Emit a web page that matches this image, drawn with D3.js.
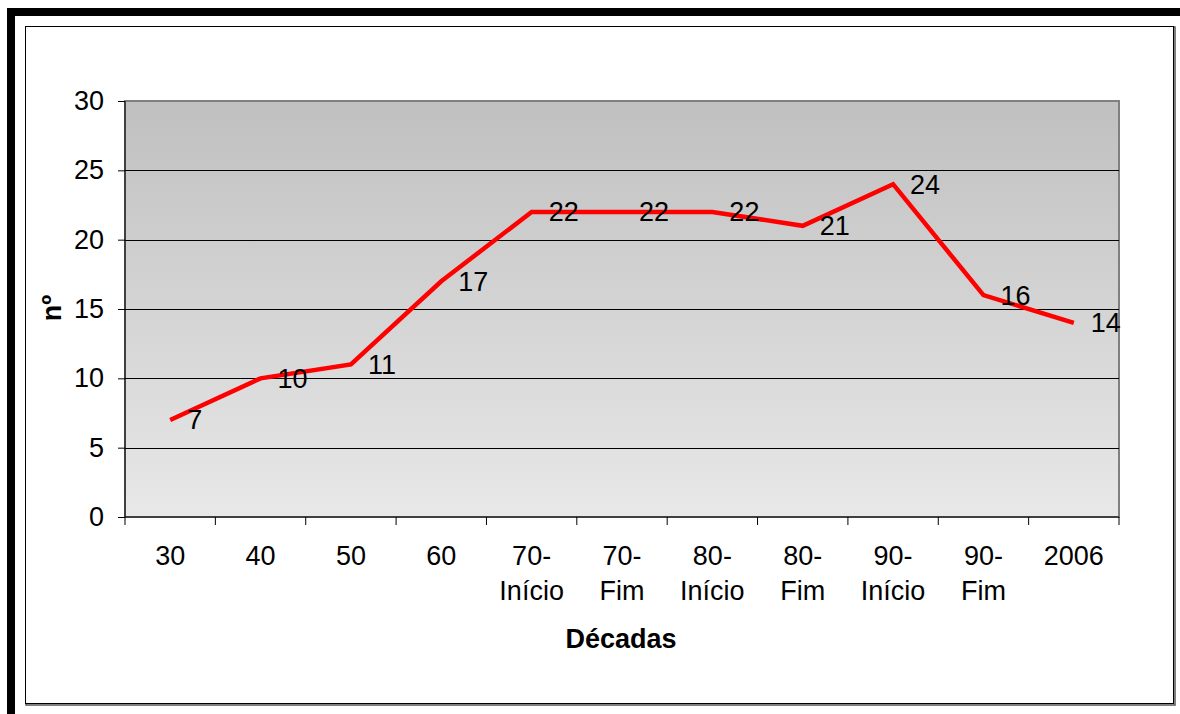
<!DOCTYPE html>
<html><head><meta charset="utf-8">
<script src="https://cdn.jsdelivr.net/npm/d3@7"></script>
<style>html,body{margin:0;padding:0;background:#fff;}svg{display:block;}</style>
</head><body>
<svg id="c" width="1180" height="714"></svg>
<script>
const categories = [["30"],["40"],["50"],["60"],["70-","Início"],["70-","Fim"],["80-","Início"],["80-","Fim"],["90-","Início"],["90-","Fim"],["2006"]];
const values = [7,10,11,17,22,22,22,21,24,16,14];
const yTicks = [0,5,10,15,20,25,30];
const xTitle = "Décadas";
const yTitle = "nº";

const svg = d3.select("#c");
const font = "'Liberation Sans', Arial, sans-serif";
const fs = 27;

// black page border bands
svg.append("rect").attr("x",7).attr("y",8).attr("width",1173).attr("height",8).attr("fill","#000");
svg.append("rect").attr("x",7).attr("y",8).attr("width",8).attr("height",706).attr("fill","#000");

// chart frame with shadow
svg.append("rect").attr("x",26).attr("y",27).attr("width",1149).attr("height",678).attr("fill","none").attr("stroke","#555").attr("stroke-width",1.5);
svg.append("rect").attr("x",25.5).attr("y",26.5).attr("width",1148).attr("height",677).attr("fill","#fff").attr("stroke","#000").attr("stroke-width",1);

const L=125, R=1119, T=101, B=517;
const x = d3.scaleBand().domain(d3.range(categories.length)).range([L,R]).padding(0);
const y = d3.scaleLinear().domain([0,30]).range([B,T]);

const defs = svg.append("defs");
const g = defs.append("linearGradient").attr("id","bg").attr("x1",0).attr("y1",0).attr("x2",0).attr("y2",1);
g.append("stop").attr("offset","0%").attr("stop-color","#c0c0c0");
g.append("stop").attr("offset","100%").attr("stop-color","#e8e8e8");

svg.append("rect").attr("x",L).attr("y",T).attr("width",R-L).attr("height",B-T).attr("fill","url(#bg)").attr("stroke","#808080").attr("stroke-width",2);

// gridlines
svg.append("g").selectAll("line").data(yTicks.filter(t=>t>0 && t<30)).join("line")
  .attr("x1",L).attr("x2",R).attr("y1",d=>Math.round(y(d))+0.5).attr("y2",d=>Math.round(y(d))+0.5)
  .attr("stroke","#000").attr("stroke-width",1);

// y axis
const ya = svg.append("g").attr("transform",`translate(${L},0)`)
  .call(d3.axisLeft(y).tickValues(yTicks).tickSize(7).tickPadding(14));
ya.select(".domain").remove();
ya.append("line").attr("x1",0).attr("x2",0).attr("y1",T).attr("y2",B).attr("stroke","#000").attr("stroke-width",1);
ya.selectAll(".tick line").attr("stroke","#000");
ya.selectAll(".tick text").attr("font-family",font).attr("font-size",fs).attr("fill","#000");

// x axis
const xa = svg.append("g").attr("transform",`translate(0,${B})`);
xa.append("line").attr("x1",L).attr("x2",R).attr("y1",0).attr("y2",0).attr("stroke","#000").attr("stroke-width",1.2);
const edges = d3.range(categories.length+1).map(i=> i<categories.length ? x(i) : x(categories.length-1)+x.bandwidth());
xa.selectAll("line.tk").data(edges).join("line").attr("class","tk")
  .attr("x1",d=>d).attr("x2",d=>d).attr("y1",0).attr("y2",8).attr("stroke","#000");
const lab = xa.selectAll("text.cat").data(categories).join("text").attr("class","cat")
  .attr("font-family",font).attr("font-size",fs).attr("text-anchor","middle").attr("fill","#000");
lab.each(function(d,i){
  const t = d3.select(this);
  d.forEach((s,j)=>{
    t.append("tspan").attr("x",x(i)+x.bandwidth()/2).attr("y",48+j*35).text(s);
  });
});

// titles
svg.append("text").attr("x",621).attr("y",648).attr("text-anchor","middle")
  .attr("font-family",font).attr("font-weight","bold").attr("font-size",fs).text(xTitle);
svg.append("text").attr("transform","translate(61,308) rotate(-90)").attr("text-anchor","middle")
  .attr("font-family",font).attr("font-weight","bold").attr("font-size",fs).text(yTitle);

// line
const cx = i => x(i)+x.bandwidth()/2;
svg.append("path").datum(values)
  .attr("d", d3.line().x((d,i)=>cx(i)).y(d=>y(d)))
  .attr("fill","none").attr("stroke","#ff0000").attr("stroke-width",4.5).attr("stroke-linejoin","miter");

// data labels
svg.append("g").selectAll("text").data(values).join("text")
  .attr("x",(d,i)=>cx(i)+17).attr("y",d=>y(d)+9.5)
  .attr("font-family",font).attr("font-size",fs).attr("fill","#000").text(d=>d);
</script>
</body></html>
